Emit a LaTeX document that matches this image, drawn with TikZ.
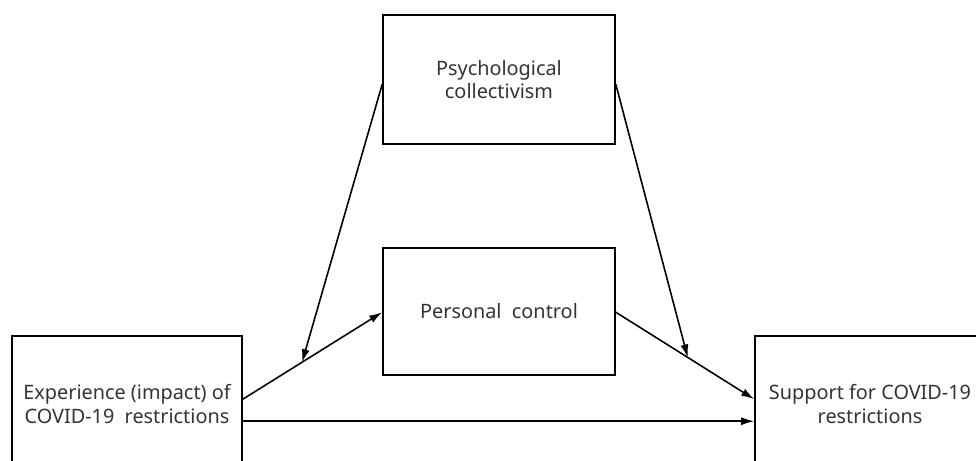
\documentclass[tikz,border=0pt]{standalone}
\usepackage{fontspec}
\setmainfont{Noto Sans}
\usetikzlibrary{arrows.meta,calc}
\begin{document}
\begin{tikzpicture}[x=0.02cm,y=-0.02cm,
  box/.style={draw=black,line width=0.9pt,minimum width=232*0.02cm,align=center,
    inner sep=0pt,text=black!80,font=\fontsize{11.3}{13.2}\selectfont},
  conn/.style={line width=0.9pt,-{Latex[length=2.6mm,width=1.6mm]}}]
\useasboundingbox (0,0) rectangle (976,460);
\clip (0,0) rectangle (976,460);
\node[box,minimum height=129*0.02cm] (psy) at (499,79.5) {Psychological\\collectivism};
\node[box,minimum height=127*0.02cm] (pc) at (499,311.5) {Personal\ \ control};
\node[box,minimum width=230*0.02cm,minimum height=136*0.02cm] (exp) at (127,404) {Experience (impact) of\\COVID-19\ \ restrictions};
\node[box,minimum width=230*0.02cm,minimum height=136*0.02cm] (sup) at (870,404) {Support for COVID-19\\restrictions};
\draw[conn] ($(exp.north east)+(0,64)$) -- coordinate[pos=0.425] (m1) ($(pc.north west)+(0,65)$);
\draw[conn] ($(exp.north east)+(0,86)$) -- ($(sup.north west)+(0,86)$);
\draw[conn] ($(pc.north east)+(0,65)$) -- coordinate[pos=0.52] (m2) ($(sup.north west)+(0,64)$);
\draw[conn] ($(psy.north west)+(0,70)$) -- (m1);
\draw[conn] ($(psy.north east)+(0,70)$) -- (m2);
\end{tikzpicture}
\end{document}
